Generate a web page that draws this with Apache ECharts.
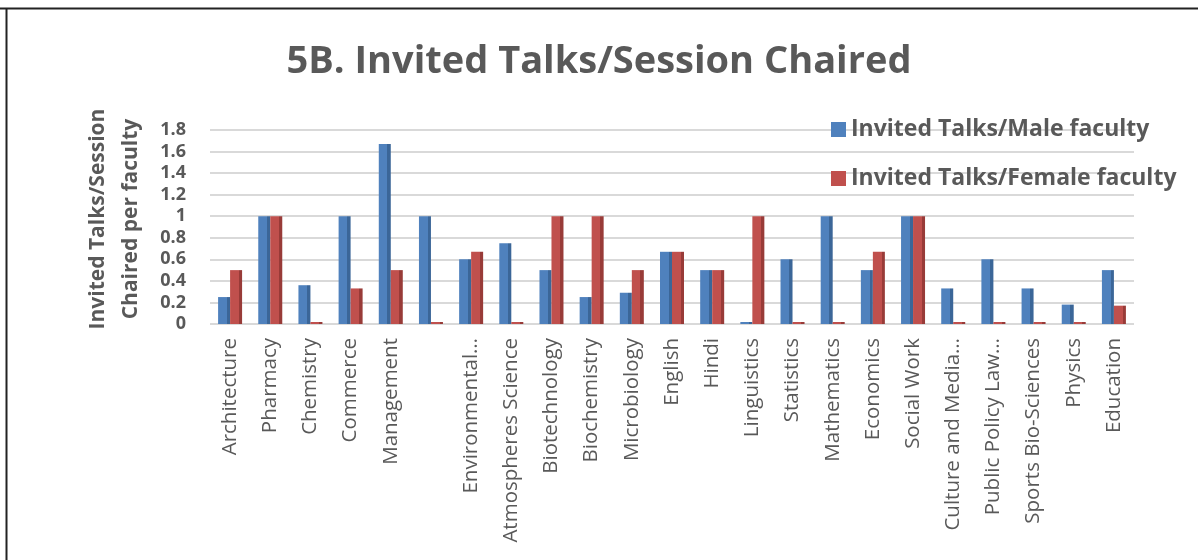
<!DOCTYPE html>
<html>
<head>
<meta charset="utf-8">
<script src="https://cdn.jsdelivr.net/npm/echarts@6/dist/echarts.min.js"></script>
<style>
  html, body { margin: 0; padding: 0; background: #fff; }
  #chart { width: 1198px; height: 560px; }
</style>
</head>
<body>
<div id="chart"></div>
<script>
const categories = ['Architecture', 'Pharmacy', 'Chemistry', 'Commerce', 'Management', '',
  'Environmental…', 'Atmospheres Science', 'Biotechnology', 'Biochemistry', 'Microbiology',
  'English', 'Hindi', 'Linguistics', 'Statistics', 'Mathematics', 'Economics', 'Social Work',
  'Culture and Media…', 'Public Policy Law…', 'Sports Bio-Sciences', 'Physics', 'Education'];
const maleValues = [0.25, 1, 0.36, 1, 1.67, 1, 0.6, 0.75, 0.5, 0.25, 0.29, 0.67, 0.5, 0, 0.6, 1, 0.5, 1, 0.33, 0.6, 0.33, 0.18, 0.5];
const femaleValues = [0.5, 1, 0, 0.33, 0.5, 0, 0.67, 0, 1, 1, 0.5, 0.67, 0.5, 1, 0, 0, 0.67, 1, 0, 0, 0, 0, 0.17];
const seriesNames = ['Invited Talks/Male faculty', 'Invited Talks/Female faculty'];
const yTicks = { min: 0, max: 1.8, interval: 0.2 };

const FONT = '"Open Sans"';
const TXT = '#595959';

function faceGradient(front, side) {
  return new echarts.graphic.LinearGradient(0, 0, 1, 0, [
    { offset: 0, color: front },
    { offset: 0.72, color: front },
    { offset: 0.72, color: side },
    { offset: 1, color: side }
  ]);
}

const chart = echarts.init(document.getElementById('chart'), null, { renderer: 'canvas' });
chart.setOption({
  animation: false,
  backgroundColor: '#fff',
  title: {
    text: '5B. Invited Talks/Session Chaired',
    left: 'center',
    top: 38,
    textStyle: { fontFamily: FONT, fontWeight: 'bold', fontSize: 38, color: TXT }
  },
  legend: {
    orient: 'vertical',
    left: 826,
    top: 113,
    itemGap: 26,
    itemWidth: 15,
    itemHeight: 15,
    icon: 'rect',
    textStyle: { fontFamily: FONT, fontWeight: 'bold', fontSize: 23, color: TXT },
    data: [
      { name: seriesNames[0], itemStyle: { color: '#4f81bd' } },
      { name: seriesNames[1], itemStyle: { color: '#c0504d' } }
    ]
  },
  grid: { left: 210, right: 64, top: 130, bottom: 236 },
  xAxis: {
    type: 'category',
    data: categories,
    axisLine: { show: false },
    axisTick: { show: false },
    axisLabel: {
      rotate: 90,
      interval: 0,
      margin: 14,
      fontFamily: FONT,
      fontSize: 20.5,
      color: TXT
    }
  },
  yAxis: {
    type: 'value',
    min: yTicks.min,
    max: yTicks.max,
    interval: yTicks.interval,
    name: 'Invited Talks/Session\nChaired per faculty',
    nameLocation: 'middle',
    nameGap: 62,
    nameTextStyle: { fontFamily: FONT, fontWeight: 'bold', fontSize: 21, color: TXT, lineHeight: 33, padding: [0, 0, 0, 16] },
    axisLine: { show: false },
    axisTick: { show: false },
    axisLabel: {
      margin: 24,
      fontFamily: FONT,
      fontWeight: 'bold',
      fontSize: 18,
      color: TXT,
      formatter: v => String(Math.round(v * 10) / 10)
    },
    splitLine: { lineStyle: { color: '#d9d9d9', width: 2 } }
  },
  series: [
    {
      name: seriesNames[0],
      type: 'bar',
      data: maleValues,
      barWidth: 12,
      barGap: '0%',
      barMinHeight: 2,
      itemStyle: { color: faceGradient('#4f81bd', '#3b6698') }
    },
    {
      name: seriesNames[1],
      type: 'bar',
      data: femaleValues,
      barWidth: 12,
      barGap: '0%',
      barMinHeight: 2,
      itemStyle: { color: faceGradient('#c0504d', '#983b38') }
    }
  ],
  graphic: [
    { type: 'line', shape: { x1: 0, y1: 8.5, x2: 1198, y2: 8.5 }, style: { stroke: '#222', lineWidth: 2 } },
    { type: 'line', shape: { x1: 6.5, y1: 8, x2: 6.5, y2: 560 }, style: { stroke: '#222', lineWidth: 2 } }
  ]
});
</script>
</body>
</html>
